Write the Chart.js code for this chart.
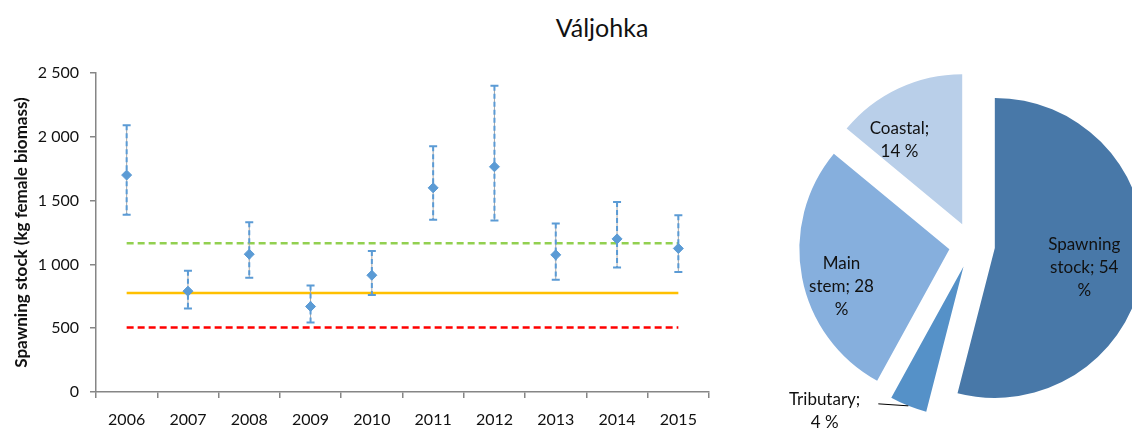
<!DOCTYPE html>
<html>
<head>
<meta charset="utf-8">
<script src="https://cdn.jsdelivr.net/npm/chart.js@4.4.0/dist/chart.umd.min.js"></script>
<style>
  html, body { margin: 0; padding: 0; background: #fff; width: 1132px; height: 428px; overflow: hidden; position: relative; }
  #title { position: absolute; left: 502px; top: 11px; width: 200px; text-align: center; font: 25px Lato, sans-serif; color: #111; line-height: 32px; }
  #stock { position: absolute; left: 0; top: 0; }
  #pie { position: absolute; left: 772px; top: 45px; }
</style>
</head>
<body>
<div id="title">Váljohka</div>
<canvas id="stock" width="740" height="428"></canvas>
<canvas id="pie" width="400" height="400"></canvas>
<script>
// spawning stock estimates per year, with confidence limits
const years = ['2006', '2007', '2008', '2009', '2010', '2011', '2012', '2013', '2014', '2015'];
const stock = [1700, 790, 1080, 670, 915, 1600, 1765, 1075, 1200, 1125];
const stockHigh = [2090, 950, 1330, 835, 1105, 1925, 2400, 1320, 1490, 1385];
const stockLow = [1390, 655, 895, 545, 760, 1350, 1345, 880, 975, 940];

// reference lines
const targetLine = [1165, 1165, 1165, 1165, 1165, 1165, 1165, 1165, 1165, 1165];
const limitLine = [775, 775, 775, 775, 775, 775, 775, 775, 775, 775];
const lowLine = [505, 505, 505, 505, 505, 505, 505, 505, 505, 505];

const yTicks = [0, 500, 1000, 1500, 2000, 2500];

// pie: share of the spawning target by area
const areas = ['Spawning stock', 'Tributary', 'Main stem', 'Coastal'];
const shares = [54, 4, 28, 14];
const areaLabels = [['Spawning', 'stock; 54', '%'], ['Tributary;', '4 %'], ['Main', 'stem; 28', '%'], ['Coastal;', '14 %']];

const FONT = 'Lato';
const BLUE = '#5b9bd5';
const AXIS = '#868686';
const TEXT = '#111';

const fmt = v => v >= 1000 ? Math.floor(v / 1000) + ' ' + String(v % 1000).padStart(3, '0') : String(v);

const errorBars = {
  id: 'errorBars',
  beforeDatasetDraw(chart, args) {
    if (args.index !== 0) return;
    const { ctx, scales: { x, y } } = chart;
    ctx.save();
    years.forEach((yr, i) => {
      const px = x.getPixelForValue(i);
      const top = y.getPixelForValue(stockHigh[i]);
      const bot = y.getPixelForValue(stockLow[i]);
      ctx.strokeStyle = '#a6a6a6';
      ctx.lineWidth = 1;
      ctx.setLineDash([]);
      ctx.beginPath(); ctx.moveTo(px, top); ctx.lineTo(px, bot); ctx.stroke();
      ctx.strokeStyle = BLUE;
      ctx.lineWidth = 2;
      ctx.setLineDash([5, 3]);
      ctx.beginPath(); ctx.moveTo(px, top); ctx.lineTo(px, bot); ctx.stroke();
      ctx.setLineDash([]);
      ctx.lineWidth = 2;
      ctx.beginPath();
      ctx.moveTo(px - 4, top); ctx.lineTo(px + 4, top);
      ctx.moveTo(px - 4, bot); ctx.lineTo(px + 4, bot);
      ctx.stroke();
    });
    ctx.restore();
  }
};

new Chart(document.getElementById('stock'), {
  type: 'line',
  data: {
    labels: years,
    datasets: [
      { data: stock, showLine: false, pointStyle: 'rectRot', pointRadius: 5, pointBackgroundColor: BLUE, pointBorderColor: BLUE, pointBorderWidth: 1 },
      { data: targetLine, borderColor: '#92d050', borderWidth: 2.5, borderDash: [7, 4], pointRadius: 0 },
      { data: limitLine, borderColor: '#ffc000', borderWidth: 2.5, pointRadius: 0 },
      { data: lowLine, borderColor: '#ff0000', borderWidth: 2.5, borderDash: [7, 4], pointRadius: 0 }
    ]
  },
  options: {
    responsive: false,
    animation: false,
    events: [],
    layout: { padding: { top: 73, right: 31, left: 0, bottom: 0 } },
    plugins: { legend: { display: false }, tooltip: { enabled: false } },
    scales: {
      x: {
        offset: true,
        grid: { offset: true, drawOnChartArea: false, tickLength: 6, color: AXIS, lineWidth: 1.5 },
        border: { color: AXIS, width: 1.5 },
        ticks: { padding: 12, color: TEXT, font: { family: FONT, size: 16 }, maxRotation: 0 },
        afterFit(scale) { scale.height = 36; }
      },
      y: {
        min: 0, max: 2500,
        afterBuildTicks(scale) { scale.ticks = yTicks.map(v => ({ value: v })); },
        grid: { drawOnChartArea: false, tickLength: 6, color: AXIS, lineWidth: 1.5 },
        border: { color: AXIS, width: 1.5 },
        ticks: { padding: 11, color: TEXT, font: { family: FONT, size: 16 }, callback: v => fmt(v) },
        title: { display: true, text: 'Spawning stock (kg female biomass)', color: TEXT, font: { family: FONT, size: 17, weight: 'bold' }, padding: { top: 11, bottom: 0 } },
        afterFit(scale) { scale.width = 96; }
      }
    }
  },
  plugins: [errorBars]
});

// pushes every slice out from the centre, same distance for all
const explode = {
  id: 'explode',
  afterDatasetUpdate(chart, args, opts) {
    chart.getDatasetMeta(args.index).data.forEach(arc => {
      const mid = (arc.startAngle + arc.endAngle) / 2;
      arc.x += Math.cos(mid) * opts.distance;
      arc.y += Math.sin(mid) * opts.distance;
    });
  }
};

// slice labels: angle shift (deg) and radius fraction; outside=true gets a leader line
const labelPlace = [
  { da: 5, f: 0.61 },
  { outside: true },
  { da: -8, f: 0.76 },
  { da: -11.5, f: 0.70 }
];

const sliceLabels = {
  id: 'sliceLabels',
  afterDatasetsDraw(chart) {
    const { ctx } = chart;
    const lh = 23;
    ctx.save();
    ctx.font = '17px ' + FONT;
    ctx.fillStyle = TEXT;
    ctx.textAlign = 'center';
    ctx.textBaseline = 'middle';
    chart.getDatasetMeta(0).data.forEach((arc, i) => {
      const { x, y, startAngle, endAngle, outerRadius } = arc.getProps(['x', 'y', 'startAngle', 'endAngle', 'outerRadius']);
      const lines = areaLabels[i];
      const p = labelPlace[i];
      const mid = (startAngle + endAngle) / 2;
      if (p.outside) {
        const sx = x + Math.cos(mid) * outerRadius;
        const sy = y + Math.sin(mid) * outerRadius;
        const ex = sx - 30, ey = sy - 2;
        ctx.strokeStyle = '#000';
        ctx.lineWidth = 1;
        ctx.beginPath(); ctx.moveTo(sx, sy); ctx.lineTo(ex, ey); ctx.stroke();
        const w = ctx.measureText(lines[0]).width;
        const cx = ex - 18 - w / 2;
        lines.forEach((t, k) => ctx.fillText(t, cx, ey - 4 + k * lh));
      } else {
        const a = mid + p.da * Math.PI / 180;
        const cx = x + Math.cos(a) * outerRadius * p.f;
        const cy = y + Math.sin(a) * outerRadius * p.f;
        const y0 = cy - (lines.length - 1) * lh / 2;
        lines.forEach((t, k) => ctx.fillText(t, cx, y0 + k * lh));
      }
    });
    ctx.restore();
  }
};

new Chart(document.getElementById('pie'), {
  type: 'pie',
  data: {
    labels: areas,
    datasets: [{
      data: shares,
      radius: 150,
      backgroundColor: ['#4878a8', '#5591c8', '#86afdd', '#b9cfe9'],
      borderWidth: 0
    }]
  },
  options: {
    responsive: false,
    animation: false,
    events: [],
    radius: 150,
    layout: { padding: 0 },
    plugins: { legend: { display: false }, tooltip: { enabled: false }, explode: { distance: 23 } }
  },
  plugins: [explode, sliceLabels]
});
</script>
</body>
</html>
